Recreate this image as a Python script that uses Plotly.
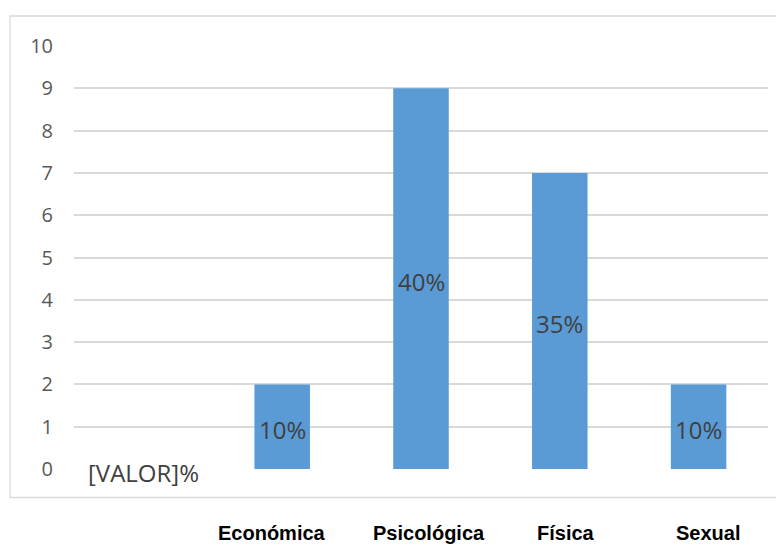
import plotly.graph_objects as go

# Data
categories = ["", "Económica", "Psicológica", "Física", "Sexual"]
values = [0, 2, 9, 7, 2]
value_labels = ["[VALOR]%", "10%", "40%", "35%", "10%"]
y_ticks = list(range(0, 11))

x_pos = list(range(len(categories)))
label_shift = [0, -10, 8, 6, 9]

# page body has an 8px margin; lay out the figure in page coordinates minus 8
OFF = 8
W, H = 784 - OFF, 545 - OFF
L, R, T, B = 74 - OFF, 768 - OFF, 46 - OFF, 469 - OFF
pw, ph = R - L, B - T

fig = go.Figure()
fig.add_trace(go.Bar(
    x=x_pos, y=values, width=0.4,
    marker=dict(color="#5B9BD5", line=dict(width=0)),
    hoverinfo="skip", showlegend=False,
))

for i, (v, t) in enumerate(zip(values, value_labels)):
    fig.add_annotation(
        x=i, y=v / 2, xref="x", yref="y", yshift=-3, text=t, showarrow=False,
        font=dict(family="Open Sans", size=24, color="#404040"),
        xanchor="center", yanchor="middle",
    )

for i, c in enumerate(categories):
    if c:
        fig.add_annotation(
            x=i, y=0, xref="x", yref="paper", yshift=-64, xshift=label_shift[i],
            text="<b>" + c + "</b>", showarrow=False,
            font=dict(family="Liberation Sans, Arial", size=20, color="#000000"),
            xanchor="center", yanchor="middle",
        )

# chart border box in paper coordinates
bx0 = (10 - OFF - L) / pw
bx1 = (800 - OFF - L) / pw
by0 = (B - (497.5 - OFF)) / ph
by1 = (B - (16 - OFF)) / ph
fig.add_shape(type="rect", xref="paper", yref="paper",
              x0=bx0, x1=bx1, y0=by0, y1=by1,
              line=dict(color="#D9D9D9", width=1.3), fillcolor="rgba(0,0,0,0)",
              layer="below")

fig.update_layout(
    width=W, height=H,
    margin=dict(l=L, r=W - R, t=T, b=H - B),
    plot_bgcolor="white", paper_bgcolor="white",
    xaxis=dict(range=[-0.5, len(categories) - 0.5], showticklabels=False,
               showgrid=False, zeroline=False, showline=False, ticks=""),
    yaxis=dict(range=[0, 10], tickvals=y_ticks, showgrid=True,
               gridcolor="#D9D9D9", gridwidth=1.5, zeroline=False, showline=False,
               tickfont=dict(family="Open Sans", size=20, color="#595959"),
               ticklabelstandoff=20, ticks=""),
)

fig.write_html("out.html")
